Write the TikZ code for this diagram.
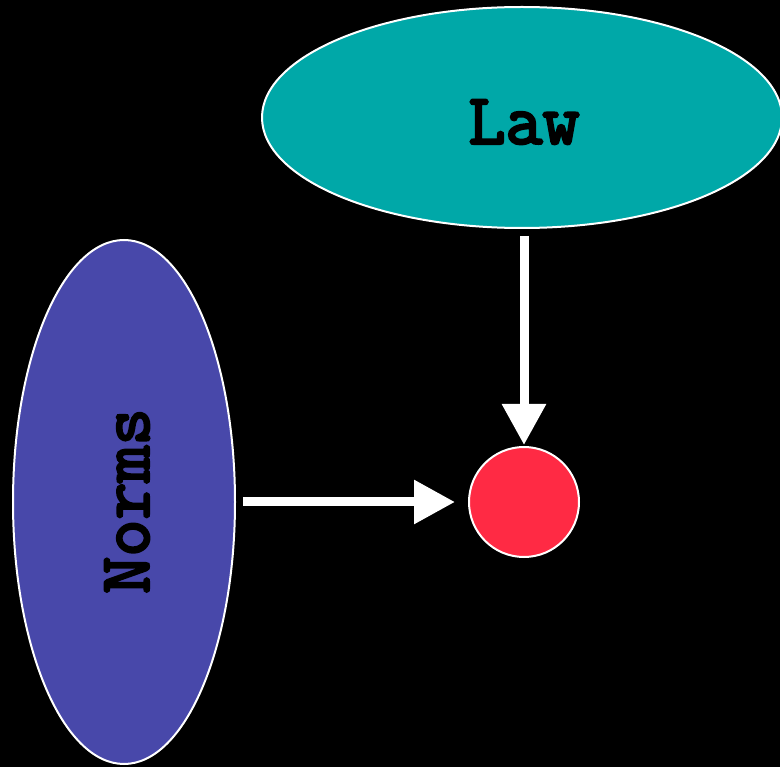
\documentclass[tikz,border=0pt]{standalone}
\usepackage{fontspec}
\newfontfamily\typefont[FakeBold=3.5]{Latin Modern Mono}
\usetikzlibrary{shapes.geometric,arrows.meta}
\definecolor{lawcol}{RGB}{0,168,168}
\definecolor{normcol}{RGB}{72,72,170}
\definecolor{dotcol}{RGB}{255,42,68}
\tikzset{
  blob/.style={ellipse, draw=white, line width=2pt, inner sep=0pt},
  lbl/.style={font=\typefont\fontsize{72}{72}\selectfont, text=black, inner sep=0pt},
  flow/.style={draw=white, line width=9pt, -{Triangle[length=41pt,width=42pt]}}
}
\begin{document}
\begin{tikzpicture}[x=1pt,y=-1pt]
\fill[black] (0,0) rectangle (780,767);
\useasboundingbox (0,0) rectangle (780,767);
\node[blob, fill=lawcol, minimum width=520pt, minimum height=221pt] (Law) at (522,117.5) {};
\node[lbl] (LawText) at (524,122) {Law};
\node[blob, fill=normcol, minimum width=222pt, minimum height=524pt] (Norms) at (124,502) {};
\node[lbl, rotate=90] (NormsText) at (127,501) {Norms};
\node[circle, draw=white, line width=2pt, fill=dotcol, minimum size=110pt, inner sep=0pt] (C) at (524,502) {};
\draw[flow, shorten <=7pt, shorten >=1pt] (Law.south -| C.north) -- (C.north);
\draw[flow, shorten <=7pt, shorten >=13pt] (Norms.east |- C.west) -- (C.west);
\end{tikzpicture}
\end{document}
